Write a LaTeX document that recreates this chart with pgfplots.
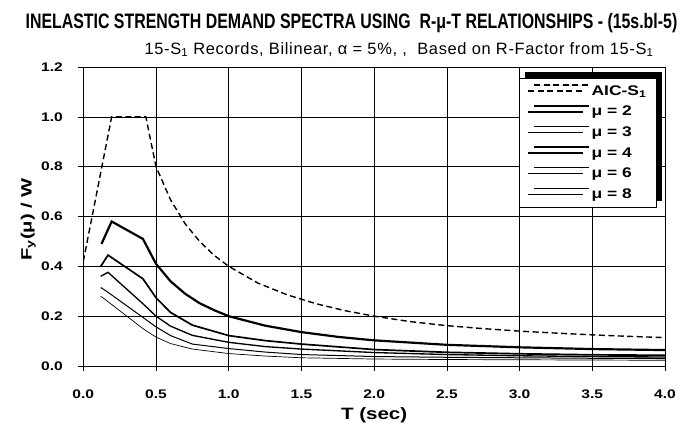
\documentclass[border=0pt]{standalone}
\usepackage{fontspec}
\setmainfont{Liberation Sans}
\newfontfamily\titlefont{Liberation Sans}[FakeStretch=0.76]
\newfontfamily\subfont{Liberation Sans}[FakeStretch=1.0, LetterSpace=4]
\newfontfamily\tickfont{Liberation Sans}[FakeStretch=1.25]
\newfontfamily\labfont{Liberation Sans}[FakeStretch=1.25]
\newfontfamily\ylabfont{Liberation Sans}[FakeStretch=1.35]
\usepackage{pgfplots}
\pgfplotsset{compat=1.18}
\usetikzlibrary{shadows}

\pgfplotstableread{
T v
0.00 0.42
0.195 1.00
0.43 1.00
0.50 0.80
0.60 0.667
0.70 0.571
0.80 0.50
0.90 0.444
1.00 0.40
1.20 0.333
1.40 0.286
1.60 0.25
1.80 0.222
2.00 0.20
2.25 0.178
2.50 0.162
2.75 0.150
3.00 0.140
3.25 0.132
3.50 0.125
3.75 0.119
4.00 0.114
}\aic

\pgfplotstableread{
T v
0.125 0.49
0.195 0.58
0.41 0.51
0.50 0.41
0.60 0.34
0.70 0.29
0.80 0.252
0.90 0.224
1.00 0.200
1.25 0.162
1.50 0.136
1.75 0.117
2.00 0.103
2.50 0.085
3.00 0.075
3.50 0.068
4.00 0.064
}\mutwo

\pgfplotstableread{
T v
0.12 0.40
0.17 0.445
0.41 0.35
0.50 0.274
0.60 0.215
0.75 0.164
1.00 0.122
1.25 0.102
1.50 0.088
2.00 0.066
2.50 0.055
3.00 0.049
3.50 0.045
4.00 0.043
}\muthree

\pgfplotstableread{
T v
0.12 0.36
0.17 0.376
0.41 0.25
0.50 0.200
0.60 0.160
0.75 0.123
1.00 0.095
1.25 0.078
1.50 0.068
2.00 0.054
2.50 0.046
3.00 0.041
3.50 0.038
4.00 0.036
}\mufour

\pgfplotstableread{
T v
0.12 0.315
0.16 0.300
0.41 0.195
0.50 0.157
0.60 0.122
0.75 0.088
1.00 0.070
1.25 0.056
1.50 0.046
2.00 0.038
2.50 0.035
3.00 0.033
3.50 0.031
4.00 0.030
}\musix

\pgfplotstableread{
T v
0.12 0.28
0.155 0.265
0.41 0.150
0.50 0.116
0.60 0.090
0.75 0.068
1.00 0.050
1.25 0.040
1.50 0.033
2.00 0.028
2.50 0.026
3.00 0.025
3.50 0.024
4.00 0.023
}\mueight

\begin{document}
\begin{tikzpicture}[x=1bp,y=1bp]
\begin{axis}[
  name=ax, at={(0,0)}, anchor=south west,
  scale only axis, width=581.7bp, height=299bp,
  xmin=0, xmax=4, ymin=0, ymax=1.2,
  xtick={0,0.5,1,1.5,2,2.5,3,3.5,4},
  ytick={0,0.2,0.4,0.6,0.8,1.0,1.2},
  tick pos=left, tick align=outside, major tick length=5bp,
  tick style={black, line width=0.6pt},
  grid=major, major grid style={black, line width=0.6pt},
  axis line style={black, line width=0.9pt},
  /pgf/number format/assume math mode=true,
  xticklabel style={/pgf/number format/fixed, /pgf/number format/fixed zerofill, /pgf/number format/precision=1,
     font=\tickfont\bfseries\fontsize{12.5}{12.5}\selectfont, yshift=-15bp},
  yticklabel style={/pgf/number format/fixed, /pgf/number format/fixed zerofill, /pgf/number format/precision=1,
     font=\tickfont\bfseries\fontsize{12.5}{12.5}\selectfont, xshift=-12bp},
  xlabel={T (sec)},
  xlabel style={font=\labfont\bfseries\fontsize{16.5}{16.5}\selectfont, at={(rel axis cs:0.5,0)}, anchor=center, yshift=-49bp},
  ylabel={F\textsubscript{y}(μ) / W},
  ylabel style={font=\ylabfont\bfseries\fontsize{15}{15}\selectfont, at={(rel axis cs:0,0.49)}, anchor=center, yshift=55bp},
  legend cell align=left,
  legend style={at={(rel axis cs:0.749,0.963)}, anchor=north west,
     draw=black, line width=0.8pt, fill=white,
     font=\labfont\bfseries\fontsize{14}{14}\selectfont,
     inner xsep=8bp, inner ysep=5bp, row sep=5.5bp,
     general shadow={fill=black, shadow xshift=6bp, shadow yshift=6bp}},
  legend image code/.code={\draw[#1] (0bp,0bp) -- (55bp,0bp); \path (60bp,0bp);},
]
\addplot[black, line width=1.4pt, dash pattern=on 6pt off 3.5pt] table[x=T,y=v] {\aic};
\addlegendentry{AIC-S\textsubscript{1}}
\addplot[black, line width=2.2pt] table[x=T,y=v] {\mutwo};
\addlegendentry{μ = 2}
\addplot[black, line width=1.7pt] table[x=T,y=v] {\muthree};
\addlegendentry{μ = 3}
\addplot[black, line width=1.35pt] table[x=T,y=v] {\mufour};
\addlegendentry{μ = 4}
\addplot[black, line width=1.0pt] table[x=T,y=v] {\musix};
\addlegendentry{μ = 6}
\addplot[black, line width=0.7pt] table[x=T,y=v] {\mueight};
\addlegendentry{μ = 8}
\end{axis}
\node[anchor=base, font=\titlefont\bfseries\fontsize{21}{21}\selectfont] at (268.2,338) {INELASTIC STRENGTH DEMAND SPECTRA USING\ \ R-μ-T RELATIONSHIPS - (15s.bl-5)};
\node[anchor=base, font=\subfont\fontsize{16.5}{16.5}\selectfont] at (315.7,312) {15-S\textsubscript{1} Records, Bilinear, α = 5\%, ,\ \ Based on R-Factor from 15-S\textsubscript{1}};
\pgfresetboundingbox
\path[use as bounding box] (-83.3,-65) rectangle (610.7,366);
\end{tikzpicture}
\end{document}
